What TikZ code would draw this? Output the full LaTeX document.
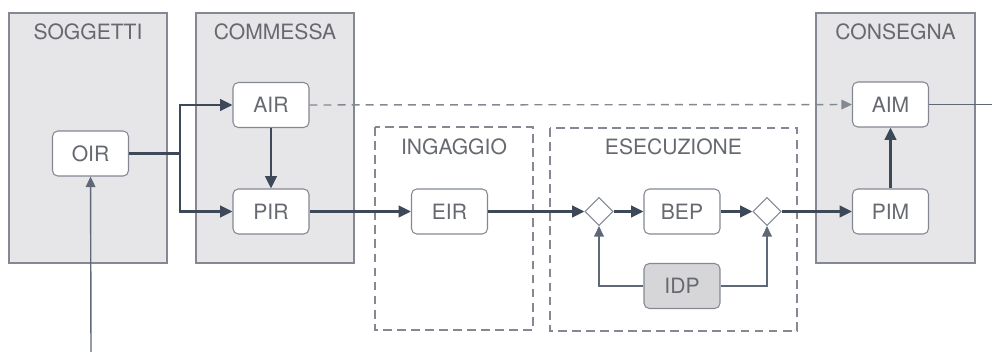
\documentclass[tikz,border=0pt]{standalone}
\usepackage{fontspec}
\setmainfont{TeX Gyre Heros}
\usetikzlibrary{arrows.meta, positioning, shapes.geometric}

\definecolor{flowcol}{HTML}{3D4859}
\definecolor{linecol}{HTML}{5F6877}
\definecolor{boxline}{HTML}{838893}
\definecolor{boxfill}{HTML}{E6E6E8}
\definecolor{txtcol}{HTML}{66696F}
\definecolor{idpfill}{HTML}{D6D6D8}

\begin{document}
\begin{tikzpicture}[x=0.02cm, y=-0.02cm,
    phase/.style={draw=boxline, line width=0.9pt, fill=boxfill},
    stage/.style={draw=boxline, line width=0.9pt, dash pattern=on 5pt off 3pt},
    title/.style={text=txtcol, font=\fontsize{12}{14}\selectfont, inner sep=0pt},
    doc/.style={draw=boxline, fill=white, rounded corners=3pt, line width=0.6pt,
      minimum width=1.52cm, minimum height=0.9cm, inner sep=0pt,
      text=txtcol, font=\fontsize{12}{14}\selectfont},
    gate/.style={diamond, draw=boxline, fill=white, line width=0.6pt,
      minimum size=0.56cm, inner sep=0pt},
    flow/.style={draw=flowcol, line width=1.6pt, -{Triangle[length=7pt, width=6.5pt]}},
    link/.style={draw=linecol, line width=0.8pt, -{Triangle[length=6pt, width=5.5pt]}}]

      \useasboundingbox (0,0) rectangle (992,352);

      % Phase boxes (grey) and stage boxes (dashed)
      \draw[phase] (9,13) rectangle (167,263);
      \draw[phase] (196,13) rectangle (354,263);
      \draw[phase] (816,13) rectangle (975,263);
      \draw[stage] (375,127) rectangle (533,330);
      \draw[stage] (550,128) rectangle (797,331);

      % Titles
      \node[title] (tsogg) at (88,32) {SOGGETTI};
      \node[title] (tcomm) at (275,32) {COMMESSA};
      \node[title] (tcons) at (895.5,32) {CONSEGNA};
      \node[title] (tinga) at (454,147) {INGAGGIO};
      \node[title] (tesec) at (673.5,147) {ESECUZIONE};

      % Information requirements and models
      \node[doc] (oir) at (90.5,153.5) {OIR};
      \node[doc] (air) at (271,105) {AIR};
      \node[doc] (pir) at (271,211.5) {PIR};
      \node[doc] (eir) at (449.5,211.5) {EIR};
      \node[doc] (bep) at (682,211.5) {BEP};
      \node[doc, fill=idpfill] (idp) at (682,286) {IDP};
      \node[doc] (aim) at (890.5,104.5) {AIM};
      \node[doc] (pim) at (890.5,211.5) {PIM};

      % Gates
      \node[gate] (g1) at (599,211.5) {};
      \node[gate] (g2) at (767,211.5) {};

      % Free ends
      \coordinate (split) at (180,153.5);
      \coordinate (src) at (91,352);
      \coordinate (out) at (992,104.5);

      % Main flow
      \draw[flow, -] (oir) -- (split);
      \draw[flow] (split) |- (air);
      \draw[flow] (split) |- (pir);
      \draw[flow] (air) -- (pir);
      \draw[flow] (pir) -- (eir);
      \draw[flow] (eir) -- (g1);
      \draw[flow] (g1) -- (bep);
      \draw[flow] (bep) -- (g2);
      \draw[flow] (g2) -- (pim);
      \draw[flow] (pim) -- (aim);

      % Feedback from IDP
      \draw[link] (idp) -| (g1);
      \draw[link] (idp) -| (g2);

      % Other links
      \draw[link, dash pattern=on 4.5pt off 3.5pt, draw=boxline] (air) -- (aim);
      \draw[link, -] (aim) -- (out);
      \draw[link] (src) -- (oir);
    \end{tikzpicture}
\end{document}
